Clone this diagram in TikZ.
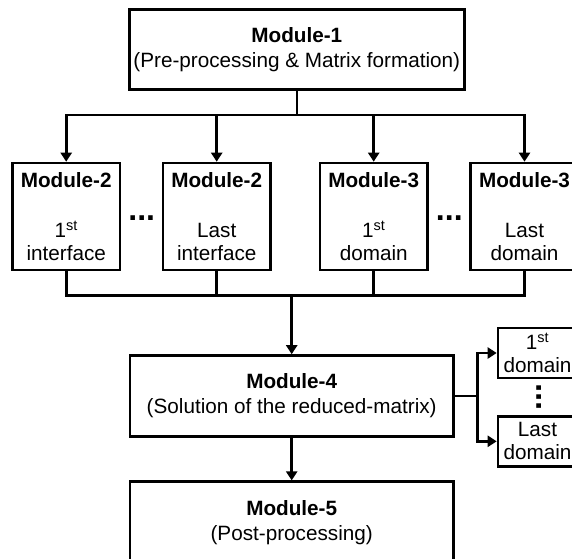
\documentclass[tikz,border=0pt]{standalone}
\usepackage{fontspec}
\setmainfont{Liberation Sans}
\usetikzlibrary{arrows.meta}
\newcommand{\boxfont}{\fontsize{20.7pt}{25pt}\selectfont}
\newcommand{\rowfont}{\fontsize{20.7pt}{22.3pt}\selectfont}
\newcommand{\sidefont}{\fontsize{20.7pt}{23pt}\selectfont}
\begin{document}
\begin{tikzpicture}[x=1pt,y=-1pt,line width=2.6pt,
	>={Triangle[length=9pt,width=11pt]},
	module/.style={draw,align=center,inner sep=0pt,font=\boxfont,minimum width=323.3pt,minimum height=81pt},
	rowbox/.style={draw,align=center,inner sep=0pt,font=\rowfont,minimum width=107.7pt,minimum height=107pt},
	sidebox/.style={draw,align=center,inner sep=0pt,font=\sidefont,minimum width=79pt,minimum height=50pt},
	ellip/.style={inner sep=0pt,font=\fontsize{32pt}{32pt}\selectfont\bfseries}]
\useasboundingbox (0,0) rectangle (572,558);

\node[module,minimum width=335pt,minimum height=80pt] (m1) at (296.8,49.3) {\textbf{Module-1}\\(Pre-processing \& Matrix formation)};
\node[rowbox] (i1) at (66.2,216.5) {\textbf{Module-2}\\[27.7pt]1\textsuperscript{st}\\interface};
\node[rowbox] (i2) at (216.7,216.5) {\textbf{Module-2}\\[27.7pt]Last\\interface};
\node[rowbox] (d1) at (373.7,216.5) {\textbf{Module-3}\\[27.7pt]1\textsuperscript{st}\\domain};
\node[rowbox] (d2) at (524.5,216.5) {\textbf{Module-3}\\[27.7pt]Last\\domain};
\node[ellip] (e1) at (141.7,218.3) {...};
\node[ellip] (e2) at (449.3,218) {...};
\node[module] (m4) at (291.7,396) {\textbf{Module-4}\\(Solution of the reduced-matrix)};
\node[module] (m5) at (291.7,522.2) {\textbf{Module-5}\\(Post-processing)};
\node[sidebox] (s1) at (537.5,353) {1\textsuperscript{st}\\domain};
\node[sidebox] (s2) at (537.5,441.3) {Last\\domain};
\node[ellip,rotate=90] (e3) at (539.3,397) {...};

\coordinate (top) at (296.8,115);
\draw (m1.south) -- (top);
\foreach \n in {i1,i2,d1,d2}
	\draw[->] (top) -| (\n.north);
\coordinate (bot) at (291.7,295.7);
\foreach \n in {i1,i2,d1,d2}
	\draw (\n.south) |- (bot);
\draw[->] (bot) -- (m4.north);
\draw[->] (m4) -- (m5);

\coordinate (fork) at (477.7,396);
\draw (m4.east) -- (fork);
\draw[->] (fork) |- (s1);
\draw[->] (fork) |- (s2);
\end{tikzpicture}
\end{document}
